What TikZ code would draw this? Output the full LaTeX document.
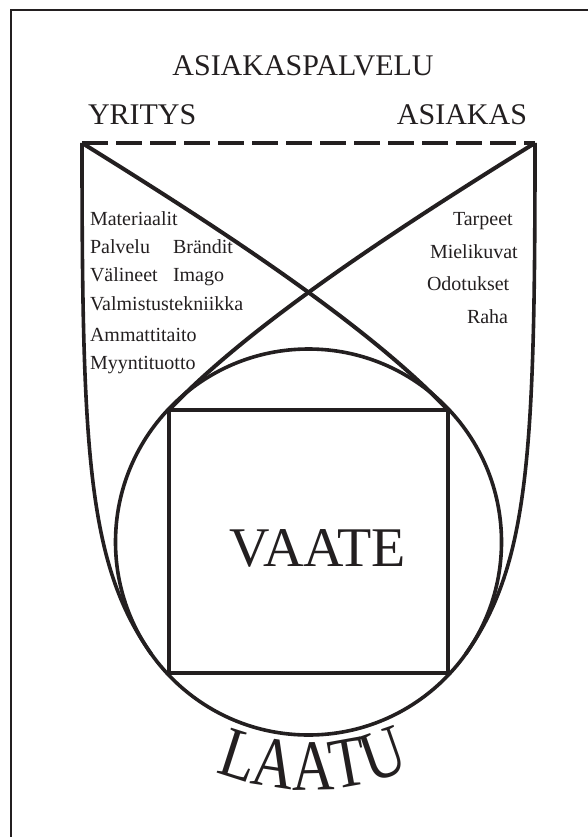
\documentclass[tikz,border=0pt]{standalone}
\usepackage{fontspec}
\usepackage{graphicx}
\setmainfont{Liberation Serif}
\definecolor{ink}{RGB}{35,31,32}
\newcommand{\tallletter}[1]{\scalebox{1}[1.22]{#1}}
\begin{document}
\begin{tikzpicture}[x=1pt,y=-1pt,
  every node/.style={text=ink, inner sep=0, outer sep=0},
  frameline/.style={draw=ink, line width=2pt},
  uline/.style={draw=ink, line width=3.6pt},
  xline/.style={draw=ink, line width=4pt},
  dashline/.style={draw=ink, line width=4pt, dash pattern=on 26pt off 8pt},
  small/.style={font=\fontsize{20}{24}\selectfont, anchor=base west},
  head/.style={font=\fontsize{30}{36}\selectfont},
  laatu/.style={font=\fontsize{59}{60}\selectfont, anchor=base}]
\useasboundingbox (0,0) rectangle (588,837);
% frame
\coordinate (F1) at (11,837);
\coordinate (F2) at (11,10);
\coordinate (F3) at (588,10);
\draw[frameline] (F1) -- (F2) -- (F3);
% main points
\coordinate (TL) at (82,143);
\coordinate (TR) at (535,143);
\coordinate (ML) at (151.2,653.8);
\coordinate (MR) at (465.8,653.8);
\node[draw=ink, circle, minimum size=386, line width=3.6pt] (circ) at (308.5,542) {};
\node[draw=ink, rectangle, minimum width=279, minimum height=263, line width=4.5pt] (box) at (308.5,541.5) {};
% dashed top
\draw[dashline] (TL) -- (TR);
% U shape
\draw[uline] (TL) .. controls (82,450) and (87.5,564.2) .. (ML);
\draw[uline] (TR) .. controls (535,450) and (529.5,564.2) .. (MR);
% crossing lines
\draw[xline] (TL) .. controls (211,223) and (366,323) .. (box.north east);
\draw[xline] (TR) .. controls (406,223) and (251,323) .. (box.north west);
% headings
\node[head, anchor=base] (title) at (303,76) {ASIAKASPALVELU};
\node[head, anchor=base west] (yritys) at (88,125) {YRITYS};
\node[head, anchor=base east] (asiakas) at (527,125) {ASIAKAS};
% left labels
\node[small] (l1) at (90,225) {Materiaalit};
\node[small] (l2) at (90,253) {Palvelu};
\node[small] (l2b) at (173,253) {Brändit};
\node[small] (l3) at (90,281) {Välineet};
\node[small] (l3b) at (173,281) {Imago};
\node[small] (l4) at (90,310) {Valmistustekniikka};
\node[small] (l5) at (90,341) {Ammattitaito};
\node[small] (l6) at (90,369) {Myyntituotto};
% right labels
\node[small] (r1) at (453,225) {Tarpeet};
\node[small] (r2) at (430,258) {Mielikuvat};
\node[small] (r3) at (427,290) {Odotukset};
\node[small] (r4) at (467,323) {Raha};
% centre
\node[font=\fontsize{56}{60}\selectfont, anchor=base] (vaate) at (318,566) {VAATE};
% curved LAATU, letter by letter on an arc round the circle centre
\node[laatu, rotate=-17.77] (q1) at (232.8,778.2) {\tallletter{L}};
\node[laatu, rotate=-8.69] (q2) at (271.0,787.1) {\tallletter{A}};
\node[laatu, rotate=1.16] (q3) at (313.5,790.0) {\tallletter{A}};
\node[laatu, rotate=10.23] (q4) at (352.5,786.1) {\tallletter{T}};
\node[laatu, rotate=19.31] (q5) at (390.5,776.0) {\tallletter{U}};
\end{tikzpicture}
\end{document}
